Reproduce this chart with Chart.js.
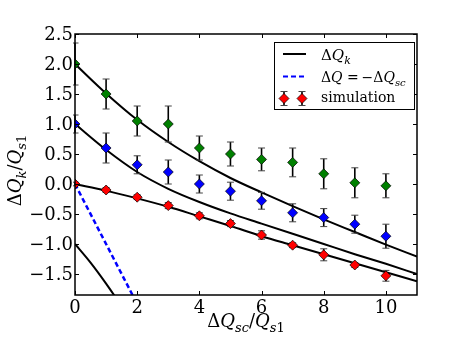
<!DOCTYPE html>
<html><head><meta charset="utf-8">
<script src="https://cdn.jsdelivr.net/npm/chart.js@4"></script>
<style>html,body{margin:0;padding:0;background:#fff}canvas{display:block}</style>
</head><body>
<canvas id="c" width="463" height="348"></canvas>
<script>
// ---- data ----
const xValues = [0,1,2,3,4,5,6,7,8,9,10];
const greenValues = [2.0,1.5,1.05,1.0,0.6,0.5,0.41,0.36,0.17,0.02,-0.03];
const greenErrors = [0.35,0.25,0.25,0.3,0.2,0.2,0.19,0.24,0.25,0.25,0.2];
const blueValues = [1.0,0.6,0.32,0.2,0.0,-0.12,-0.28,-0.48,-0.56,-0.67,-0.87];
const blueErrors = [0.15,0.25,0.15,0.2,0.15,0.15,0.14,0.15,0.15,0.15,0.2];
const redValues = [0.0,-0.1,-0.22,-0.36,-0.53,-0.66,-0.85,-1.02,-1.18,-1.35,-1.53];
const redErrors = [0.03,0.04,0.04,0.05,0.05,0.05,0.07,0.04,0.1,0.04,0.09];
const curveX = [0,1,2,3,4,5,6,7,8,9,10,11];
const curve1Values = [2.0,1.51,1.07,0.7,0.38,0.1,-0.14,-0.37,-0.59,-0.8,-1.01,-1.21];
const curve2Values = [1.0,0.57,0.2,-0.08,-0.3,-0.49,-0.66,-0.83,-1.0,-1.17,-1.33,-1.5];
const curve3Values = [0.0,-0.11,-0.24,-0.38,-0.54,-0.7,-0.87,-1.02,-1.17,-1.32,-1.47,-1.62];
const curve4X = [0,0.5,1,1.5,2];
const curve4Values = [-1.0,-1.31,-1.66,-2.04,-2.44];
const dashX = [0,2];
const dashValues = [0,-2];
const xTicks = [0,2,4,6,8,10];
const yTicks = [-1.5,-1,-0.5,0,0.5,1,1.5,2,2.5];
const yTickLabels = ['\u22121.5','\u22121.0','\u22120.5','0.0','0.5','1.0','1.5','2.0','2.5'];
const legendLabels = ['ΔQ_k','ΔQ = −ΔQ_sc','simulation'];

const pts = (xs, ys) => xs.map((x,i)=>({x, y: ys[i]}));
const SERIF = '"DejaVu Serif", serif';

function drawRich(ctx, parts, x, y, size, align) {
  const fontFor = k => (k.indexOf('i')>=0 ? 'italic ' : '') + (k[0]==='s' ? Math.round(size*0.7) : size) + 'px ' + SERIF;
  let total = 0; const w = [];
  for (const [t,k] of parts) { ctx.font = fontFor(k); const m = ctx.measureText(t).width; w.push(m); total += m; }
  let cx = align === 'center' ? x - total/2 : x;
  ctx.textAlign = 'left'; ctx.textBaseline = 'alphabetic';
  parts.forEach(([t,k],i) => { ctx.font = fontFor(k); ctx.fillText(t, cx, y + (k[0]==='s' ? size*0.25 : 0)); cx += w[i]; });
}

function errorBar(ctx, x, yTop, yBot) {
  ctx.strokeStyle = '#000'; ctx.lineWidth = 1.6;
  ctx.beginPath(); ctx.moveTo(x, yTop); ctx.lineTo(x, yBot); ctx.stroke();
  ctx.lineWidth = 1; ctx.strokeStyle = '#444';
  ctx.beginPath(); ctx.moveTo(x-3.5, yTop); ctx.lineTo(x+3.5, yTop);
  ctx.moveTo(x-3.5, yBot); ctx.lineTo(x+3.5, yBot); ctx.stroke();
}
function diamond(ctx, x, y, r, color) {
  ctx.beginPath(); ctx.moveTo(x, y-r); ctx.lineTo(x+r, y); ctx.lineTo(x, y+r); ctx.lineTo(x-r, y); ctx.closePath();
  ctx.fillStyle = color; ctx.fill(); ctx.strokeStyle = '#000'; ctx.lineWidth = 0.7; ctx.stroke();
}

const bgPlugin = {
  id: 'bg',
  beforeDraw(chart) { const c = chart.ctx; c.save(); c.fillStyle = '#fff'; c.fillRect(0, 0, chart.width, chart.height); c.restore(); }
};

const errorPlugin = {
  id: 'errs',
  beforeDatasetDraw(chart, args) {
    const ds = chart.data.datasets[args.index];
    if (!ds.errors) return;
    const {ctx, chartArea, scales:{x, y}} = chart;
    ctx.save();
    ctx.beginPath(); ctx.rect(chartArea.left-2, chartArea.top, chartArea.right-chartArea.left+2, chartArea.bottom-chartArea.top); ctx.clip();
    ds.data.forEach((p,i) => {
      const px = x.getPixelForValue(p.x);
      errorBar(ctx, px, y.getPixelForValue(p.y + ds.errors[i]), y.getPixelForValue(p.y - ds.errors[i]));
    });
    ctx.restore();
  }
};

const decorPlugin = {
  id: 'decor',
  afterDatasetsDraw(chart) {
    const {ctx, chartArea:a, scales:{x, y}} = chart;
    ctx.save();
    // inward ticks
    ctx.strokeStyle = '#000'; ctx.lineWidth = 1;
    ctx.beginPath();
    xTicks.forEach(v => { const px = Math.round(x.getPixelForValue(v))+0.5;
      ctx.moveTo(px, a.bottom); ctx.lineTo(px, a.bottom-4); ctx.moveTo(px, a.top); ctx.lineTo(px, a.top+4); });
    yTicks.forEach(v => { const py = Math.round(y.getPixelForValue(v))+0.5;
      ctx.moveTo(a.left, py); ctx.lineTo(a.left+4, py); ctx.moveTo(a.right, py); ctx.lineTo(a.right-4, py); });
    ctx.stroke();
    // frame
    ctx.lineWidth = 1.5; ctx.strokeStyle = '#000';
    ctx.strokeRect(a.left, a.top, a.right-a.left, a.bottom-a.top);
    // y tick labels
    ctx.fillStyle = '#000'; ctx.font = '18px ' + SERIF; ctx.textAlign = 'right'; ctx.textBaseline = 'middle';
    yTicks.forEach((v,i) => ctx.fillText(yTickLabels[i], a.left - 2, y.getPixelForValue(v) + 1));
    // legend
    ctx.fillStyle = '#fff'; ctx.fillRect(274, 42, 140, 67);
    ctx.lineWidth = 1; ctx.strokeStyle = '#000'; ctx.strokeRect(274.5, 42.5, 140, 67);
    ctx.lineWidth = 2; ctx.beginPath(); ctx.moveTo(283, 54); ctx.lineTo(306, 54); ctx.stroke();
    ctx.strokeStyle = '#0000ff'; ctx.setLineDash([5,3]); ctx.beginPath(); ctx.moveTo(283, 76.5); ctx.lineTo(306, 76.5); ctx.stroke();
    ctx.setLineDash([]);
    [284, 302].forEach(px => { errorBar(ctx, px, 91.5, 105.5); diamond(ctx, px, 98.5, 5, '#ff0000'); });
    ctx.fillStyle = '#000';
    drawRich(ctx, [['Δ','n'],['Q','i'],['k','si']], 321, 60, 15, 'left');
    drawRich(ctx, [['Δ','n'],['Q','i'],[' =\u2009−','n'],['Δ','n'],['Q','i'],['sc','si']], 321, 82, 14, 'left');
    ctx.font = '14px ' + SERIF; ctx.fillText(legendLabels[2], 321, 102);
    // axis titles
    drawRich(ctx, [['Δ','n'],['Q','i'],['sc','si'],['/','n'],['Q','i'],['s','si'],['1','sn']], (a.left+a.right)/2, 327, 18, 'center');
    ctx.save(); ctx.translate(21, (a.top+a.bottom)/2 + 6); ctx.rotate(-Math.PI/2);
    drawRich(ctx, [['Δ','n'],['Q','i'],['k','si'],['/','n'],['Q','i'],['s','si'],['1','sn']], 0, 0, 18, 'center');
    ctx.restore();
    ctx.restore();
  }
};

const scatterDs = (vals, errs, color) => ({
  type: 'scatter', data: pts(xValues, vals), errors: errs,
  backgroundColor: color, borderColor: '#000', pointStyle: 'rectRot',
  pointRadius: 5, pointBorderWidth: 0.7, pointHoverRadius: 5, clip: 0
});
const lineDs = (xs, vals, extra) => Object.assign({
  type: 'scatter', data: pts(xs, vals), showLine: true, borderColor: '#000', borderWidth: 2,
  pointRadius: 0, cubicInterpolationMode: 'monotone', fill: false, clip: 0
}, extra || {});

new Chart(document.getElementById('c'), {
  type: 'scatter',
  data: { datasets: [
    scatterDs(redValues, redErrors, '#ff0000'),
    scatterDs(blueValues, blueErrors, '#0000ff'),
    scatterDs(greenValues, greenErrors, '#008000'),
    lineDs(dashX, dashValues, {borderColor: '#0000ff', borderWidth: 2.5, borderDash: [5,3]}),
    lineDs(curveX, curve1Values),
    lineDs(curveX, curve2Values),
    lineDs(curveX, curve3Values),
    lineDs(curve4X, curve4Values)
  ]},
  options: {
    responsive: false, animation: false, devicePixelRatio: 1,
    layout: { padding: { top: 34, right: 46, left: 0, bottom: 0 } },
    plugins: { legend: { display: false }, tooltip: { enabled: false } },
    events: [],
    scales: {
      x: { type: 'linear', min: 0, max: 11,
        afterBuildTicks: s => { s.ticks = xTicks.map(v => ({value: v})); },
        afterFit: s => { s.height = 53; },
        grid: { display: false, drawTicks: false }, border: { display: false },
        ticks: { color: '#000', font: { family: SERIF, size: 18 }, padding: 3, maxRotation: 0, autoSkip: false,
          callback: v => String(v) } },
      y: { type: 'linear', min: -1.85, max: 2.5,
        afterBuildTicks: s => { s.ticks = yTicks.map(v => ({value: v})); },
        afterFit: s => { s.width = 75; },
        grid: { display: false, drawTicks: false }, border: { display: false },
        ticks: { display: false } }
    }
  },
  plugins: [bgPlugin, errorPlugin, decorPlugin]
});
</script>
</body></html>
